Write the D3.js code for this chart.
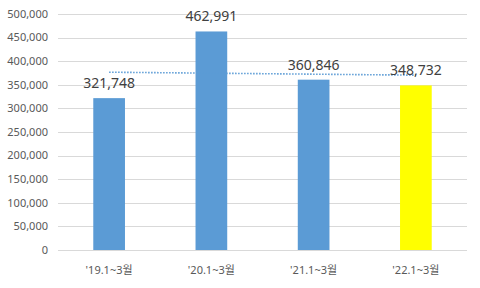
<!DOCTYPE html>
<html lang="ko">
<head>
<meta charset="UTF-8">
<title>1~3월 비교</title>
<script src="https://d3js.org/d3.v7.min.js"></script>
<style>
    body { margin: 0; background: #fff; font-family: "Noto Sans", "Noto Sans CJK KR", sans-serif; }
    svg { display: block; }
    .grid line { stroke: #d9d9d9; stroke-width: 1; }
    .tick-label { fill: #595959; font-size: 11px; }
    .data-label { fill: #404040; font-size: 14px; }
</style>
</head>
<body>
<svg id="chart" width="480" height="288"></svg>
<script>
    // values
    const categories = ["'19.1~3월", "'20.1~3월", "'21.1~3월", "'22.1~3월"];
    const values = [321748, 462991, 360846, 348732];
    const barColors = ["#5b9bd5", "#5b9bd5", "#5b9bd5", "#ffff00"];
    const yTicks = [0, 50000, 100000, 150000, 200000, 250000, 300000, 350000, 400000, 450000, 500000];
    // dotted trend line, start and end as read
    const trendValues = [376700, 370400];

    const width = 480, height = 288;
    const margin = { top: 14, right: 13, bottom: 38, left: 58 };

    const svg = d3.select("#chart");

    const x = d3.scaleBand()
        .domain(categories)
        .range([margin.left, width - margin.right])
        .paddingInner(0.69)
        .paddingOuter(0.345);

    const y = d3.scaleLinear()
        .domain([0, 500000])
        .range([height - margin.bottom, margin.top]);

    const fmt = d3.format(",");

    // gridlines
    svg.append("g").attr("class", "grid")
        .selectAll("line")
        .data(yTicks)
        .join("line")
        .attr("x1", margin.left)
        .attr("x2", width - margin.right)
        .attr("y1", d => Math.round(y(d)) + 0.5)
        .attr("y2", d => Math.round(y(d)) + 0.5);

    // y labels
    svg.append("g")
        .selectAll("text")
        .data(yTicks)
        .join("text")
        .attr("class", "tick-label")
        .attr("x", margin.left - 10)
        .attr("y", d => y(d))
        .attr("dy", "0.35em")
        .attr("text-anchor", "end")
        .text(d => fmt(d));

    // bars
    svg.append("g")
        .selectAll("rect")
        .data(values)
        .join("rect")
        .attr("x", (d, i) => x(categories[i]))
        .attr("y", d => y(d))
        .attr("width", x.bandwidth())
        .attr("height", d => y(0) - y(d))
        .attr("fill", (d, i) => barColors[i]);

    // trend line (drawn over gridlines, under labels)
    const trendX = [categories[0], categories[categories.length - 1]].map(c => x(c) + x.bandwidth() / 2);
    svg.append("line")
        .attr("x1", trendX[0])
        .attr("x2", trendX[1])
        .attr("y1", y(trendValues[0]))
        .attr("y2", y(trendValues[1]))
        .attr("stroke", "#5b9bd5")
        .attr("stroke-width", 1.6)
        .attr("stroke-dasharray", "1.5 1.5");

    // data labels
    svg.append("g")
        .selectAll("text")
        .data(values)
        .join("text")
        .attr("class", "data-label")
        .attr("x", (d, i) => x(categories[i]) + x.bandwidth() / 2)
        .attr("y", d => y(d) - 10)
        .attr("text-anchor", "middle")
        .text(d => fmt(d));

    // x labels
    svg.append("g")
        .selectAll("text")
        .data(categories)
        .join("text")
        .attr("class", "tick-label")
        .attr("x", d => x(d) + x.bandwidth() / 2)
        .attr("y", height - margin.bottom + 20)
        .attr("dy", "0.35em")
        .attr("text-anchor", "middle")
        .text(d => d);
</script>
</body>
</html>
